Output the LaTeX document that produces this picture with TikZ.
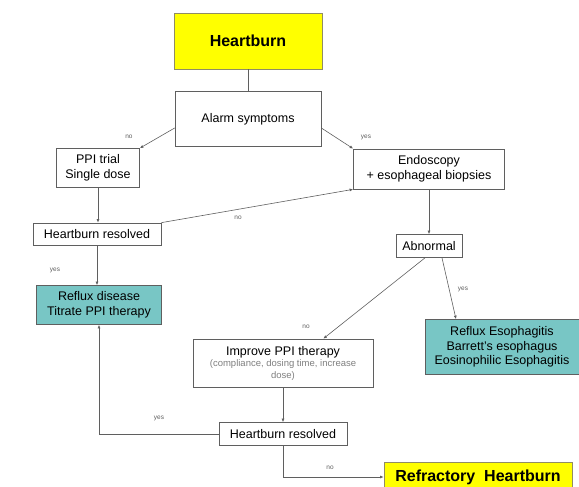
\documentclass[tikz,border=0pt]{standalone}
\usepackage{fontspec}
\setmainfont{Liberation Sans}
\usepackage{tikz}
\usetikzlibrary{arrows.meta}

\definecolor{hbyellow}{RGB}{255,255,0}
\definecolor{hbteal}{RGB}{120,198,197}
\definecolor{hbline}{RGB}{95,95,95}

\begin{document}
\begin{tikzpicture}[x=1pt, y=-1pt,
        box/.style={draw=hbline, line width=0.7pt, fill=white, align=center, inner sep=1pt,
            font=\fontsize{12.5}{14.5}\selectfont},
        startbox/.style={box, draw=gray!70!olive, fill=hbyellow, font=\bfseries\fontsize{16}{18}\selectfont},
        tealbox/.style={box, fill=hbteal},
        lbl/.style={font=\fontsize{6.5}{7}\selectfont, text=hbline},
        link/.style={draw=hbline, line width=0.6pt, -{Latex[length=3.5pt,width=3pt]}}]
        \clip (0,0) rectangle (579,487);
        \useasboundingbox (0,0) rectangle (579,487);

        \node[startbox, minimum width=148pt, minimum height=56pt] (heartburn) at (248,41) {Heartburn};
        \node[box, minimum width=146pt, minimum height=55pt] (alarm) at (248,119) {Alarm symptoms};
        \node[box, minimum width=83pt, minimum height=39pt] (ppi) at (98,168) {PPI trial\\Single dose};
        \node[box, minimum width=151pt, minimum height=40pt] (endo) at (429,169) {Endoscopy\\+ esophageal biopsies};
        \node[box, minimum width=128pt, minimum height=22pt] (hrtop) at (97,234) {Heartburn resolved};
        \node[box, minimum width=66pt, minimum height=23pt] (abn) at (429,246) {Abnormal};
        \node[tealbox, minimum width=125pt, minimum height=39pt] (refdis) at (99,305) {Reflux disease\\Titrate PPI therapy};
        \node[box, minimum width=180pt, minimum height=48pt] (improve) at (283,363)
            {Improve PPI therapy\\[-3pt]{\fontsize{9.5}{10}\selectfont\color{gray} (compliance, dosing time, increase}\\[-3pt]{\fontsize{9.5}{10}\selectfont\color{gray} dose)}};
        \node[tealbox, minimum width=154pt, minimum height=55pt] (esoph) at (502,347)
            {Reflux Esophagitis\\Barrett's esophagus\\Eosinophilic Esophagitis};
        \node[box, minimum width=128pt, minimum height=23pt] (hrbot) at (283,434) {Heartburn resolved};
        \node[startbox, minimum width=188pt, minimum height=30pt] (refract) at (478,477) {Refractory\ \ Heartburn};

        \draw[hbline, line width=0.6pt] (heartburn) -- (alarm);
        \draw[link] ([yshift=-9pt]alarm.west) -- (ppi.north east);
        \draw[link] ([yshift=-9pt]alarm.east) -- (endo.north west);
        \draw[link] (ppi.south) -- (ppi.south |- hrtop.north);
        \draw[link] (hrtop.north east) -- (endo.south west);
        \draw[link] (endo) -- (abn);
        \draw[link] (hrtop.south) -- (hrtop.south |- refdis.north);
        \draw[link] ([xshift=-4pt]abn.south) -- ([xshift=-50pt]improve.north east);
        \draw[link] ([xshift=13pt]abn.south) -- ([xshift=-46pt]esoph.north);
        \draw[link] (improve) -- (hrbot);
        \draw[link] (hrbot.west) -| (refdis.south);
        \draw[link] (hrbot.south) |- (refract.west);

        % yes / no
        \node[lbl] (no1) at (129,137) {no};
        \node[lbl] (yes1) at (366,137) {yes};
        \node[lbl] (no2) at (238,218) {no};
        \node[lbl] (yes2) at (55,270) {yes};
        \node[lbl] (no3) at (306,327) {no};
        \node[lbl] (yes3) at (463,289) {yes};
        \node[lbl] (yes4) at (159,418) {yes};
        \node[lbl] (no4) at (330,468) {no};
\end{tikzpicture}
\end{document}
